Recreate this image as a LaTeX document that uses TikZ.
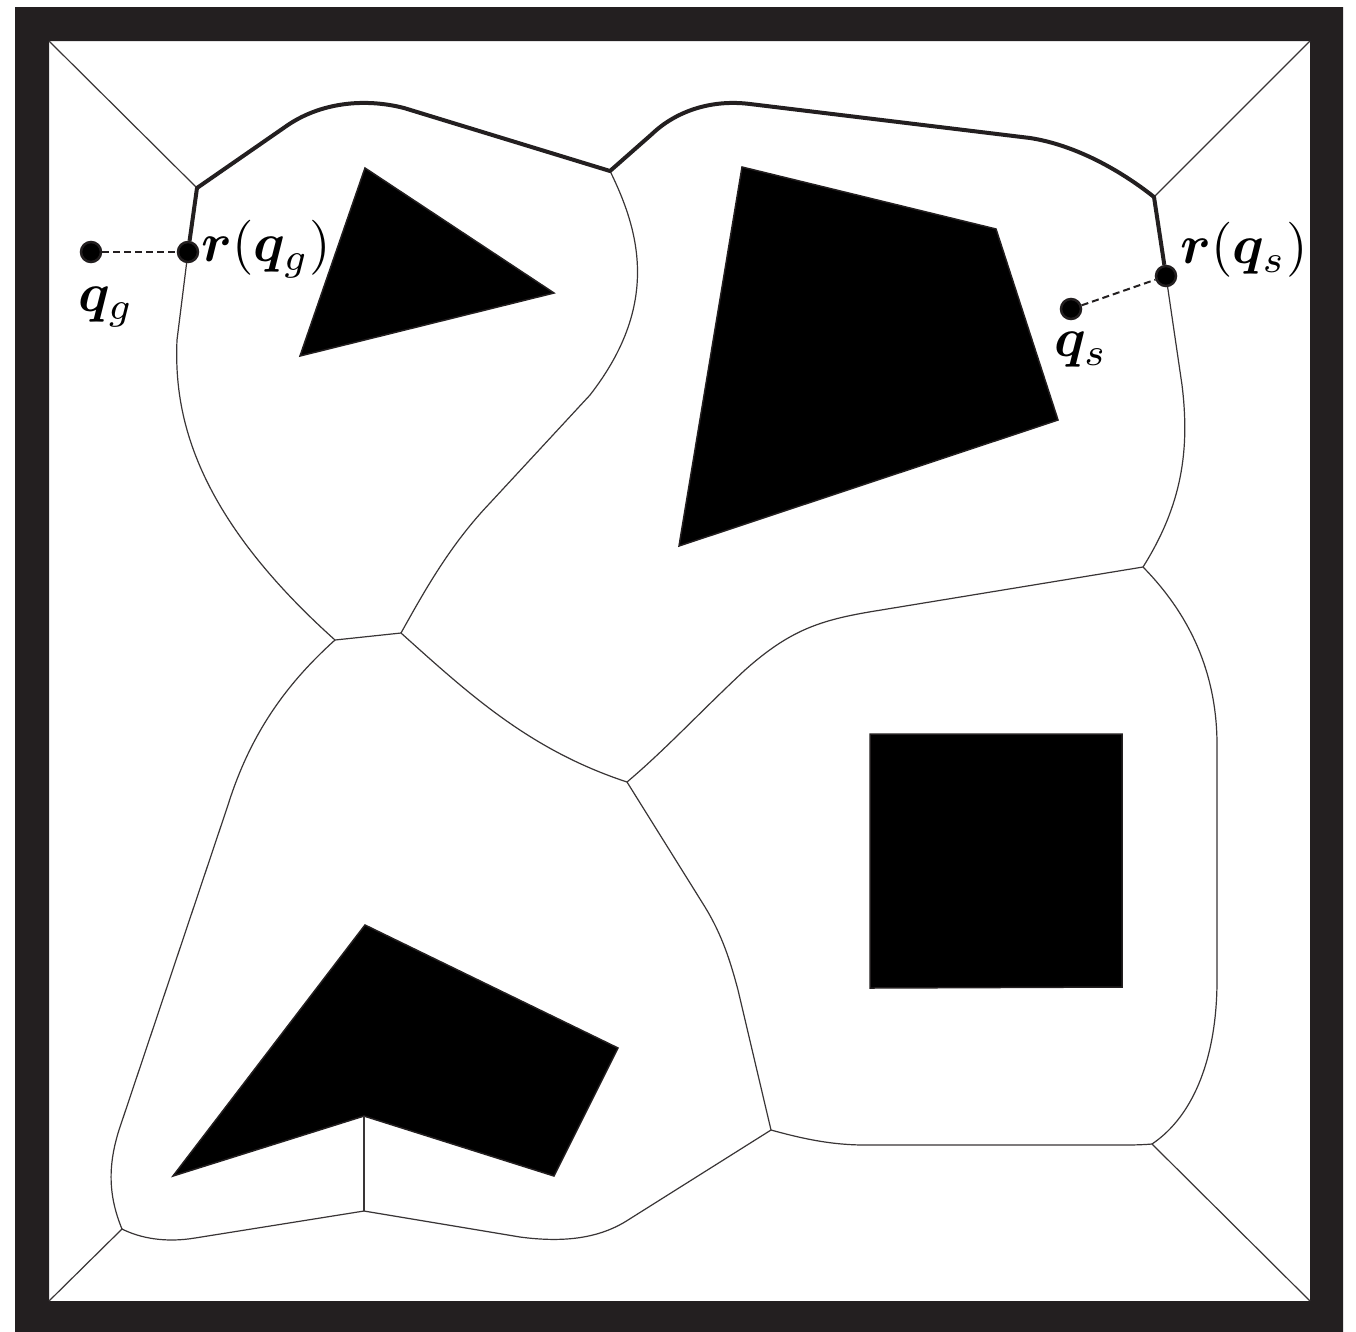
\documentclass[tikz,border=0pt]{standalone}
\usepackage{amsmath,amssymb,bm}
\definecolor{framec}{HTML}{231F20}
\tikzset{
  thinedge/.style={draw=framec!90,line width=1.2pt,line join=round},
  thickedge/.style={draw=framec,line width=4pt,line join=round},
  obstacle/.style={fill=black,draw=framec,line width=1.5pt,line join=miter},
  dashedge/.style={draw=framec,line width=2pt,dash pattern=on 7pt off 4pt},
  dotnode/.style={circle,fill=black,draw=framec,line width=2.5pt,minimum size=20pt,inner sep=0pt},
  lab/.style={inner sep=0pt,scale=5.5,text=black}
}
\begin{document}
\begin{tikzpicture}[x=1pt,y=-1pt]
\useasboundingbox (0,0) rectangle (1356,1331);
\fill[white] (0,0) rectangle (1356,1331);
% frame
\fill[framec,even odd rule] (15,7) rectangle (1343,1332) (49,41) rectangle (1310,1301);
% roadmap vertices
\coordinate (cTL) at (49,41);
\coordinate (cTR) at (1310,41);
\coordinate (cBL) at (49,1301);
\coordinate (cBR) at (1310,1301);
\coordinate (v1) at (197,188);
\coordinate (v2) at (610,171);
\coordinate (v3) at (1154,197);
\coordinate (v4) at (1143,567);
\coordinate (v5) at (335,640);
\coordinate (v6) at (401,633);
\coordinate (v7) at (627,782);
\coordinate (v8) at (1152,1144);
\coordinate (v9) at (771,1130);
\coordinate (v10) at (364,1211);
\coordinate (v11) at (122,1229);
\coordinate (notch) at (364,1116);
% obstacles
\fill[obstacle] (365,168) -- (554,293) -- (300,356) -- cycle;
\fill[obstacle] (742,167) -- (996,229) -- (1058,420) -- (679,546) -- cycle;
\fill[obstacle] (870,734) -- (1122,734) -- (1122,987) -- (870,988) -- cycle;
\fill[obstacle] (365,925) -- (618,1048) -- (554,1176) -- (notch) -- (173,1176) -- cycle;
% dots
\node[dotnode] (qg) at (91,252) {};
\node[dotnode] (rg) at (188,252) {};
\node[dotnode] (qs) at (1071,309) {};
\node[dotnode] (rs) at (1166,276) {};
% thin edges
\draw[thinedge] (cTL) -- (v1);
\draw[thinedge] (cTR) -- (v3);
\draw[thinedge] (cBL) -- (v11);
\draw[thinedge] (cBR) -- (v8);
\draw[thinedge] (rg) -- (177,340) .. controls (174,410) and (190,510) .. (v5);
\draw[thinedge] (v5) -- (v6);
\draw[thinedge] (v2) .. controls (640,232) and (660,305) .. (590,395) -- (490,503) .. controls (450,545) and (425,590) .. (v6);
\draw[thinedge] (v6) .. controls (470,695) and (530,750) .. (v7);
\draw[thinedge] (v7) .. controls (665,750) and (700,712) .. (745,670) .. controls (790,630) and (820,620) .. (875,611) -- (v4);
\draw[thinedge] (rs) -- (1182,385) .. controls (1190,450) and (1182,505) .. (v4);
\draw[thinedge] (v4) .. controls (1195,620) and (1217,680) .. (1217,745) -- (1217,980) .. controls (1217,1055) and (1195,1115) .. (v8);
\draw[thinedge] (v8) .. controls (1140,1145) and (1130,1145) .. (1120,1145) -- (865,1145) .. controls (830,1145) and (800,1138) .. (v9);
\draw[thinedge] (v9) -- (738,990) .. controls (730,960) and (722,935) .. (705,907) -- (v7);
\draw[thinedge] (v9) -- (628,1220) .. controls (600,1238) and (565,1243) .. (520,1237) -- (v10);
\draw[thinedge] (v10) -- (notch);
\draw[thinedge] (v10) -- (195,1238) .. controls (165,1243) and (140,1238) .. (v11);
\draw[thinedge] (v11) .. controls (108,1195) and (108,1165) .. (119,1130) -- (228,805) .. controls (250,735) and (285,685) .. (v5);
% thick path
\draw[thickedge] (rg) -- (v1) -- (285,127) .. controls (320,102) and (365,98) .. (404,108) -- (v2) -- (652,134) .. controls (675,112) and (710,99) .. (750,104) -- (1030,138) .. controls (1075,145) and (1120,170) .. (v3) -- (rs);
% dashed
\draw[dashedge] (qg) -- (rg);
\draw[dashedge] (qs) -- (rs);
% labels
\node[lab] (lqg) at (106,307) {$\boldsymbol{q}_g$};
\node[lab] (lrg) at (266,249) {$\boldsymbol{r}(\boldsymbol{q}_g)$};
\node[lab] (lqs) at (1081,350) {$\boldsymbol{q}_s$};
\node[lab] (lrs) at (1244,250) {$\boldsymbol{r}(\boldsymbol{q}_s)$};
\end{tikzpicture}
\end{document}
